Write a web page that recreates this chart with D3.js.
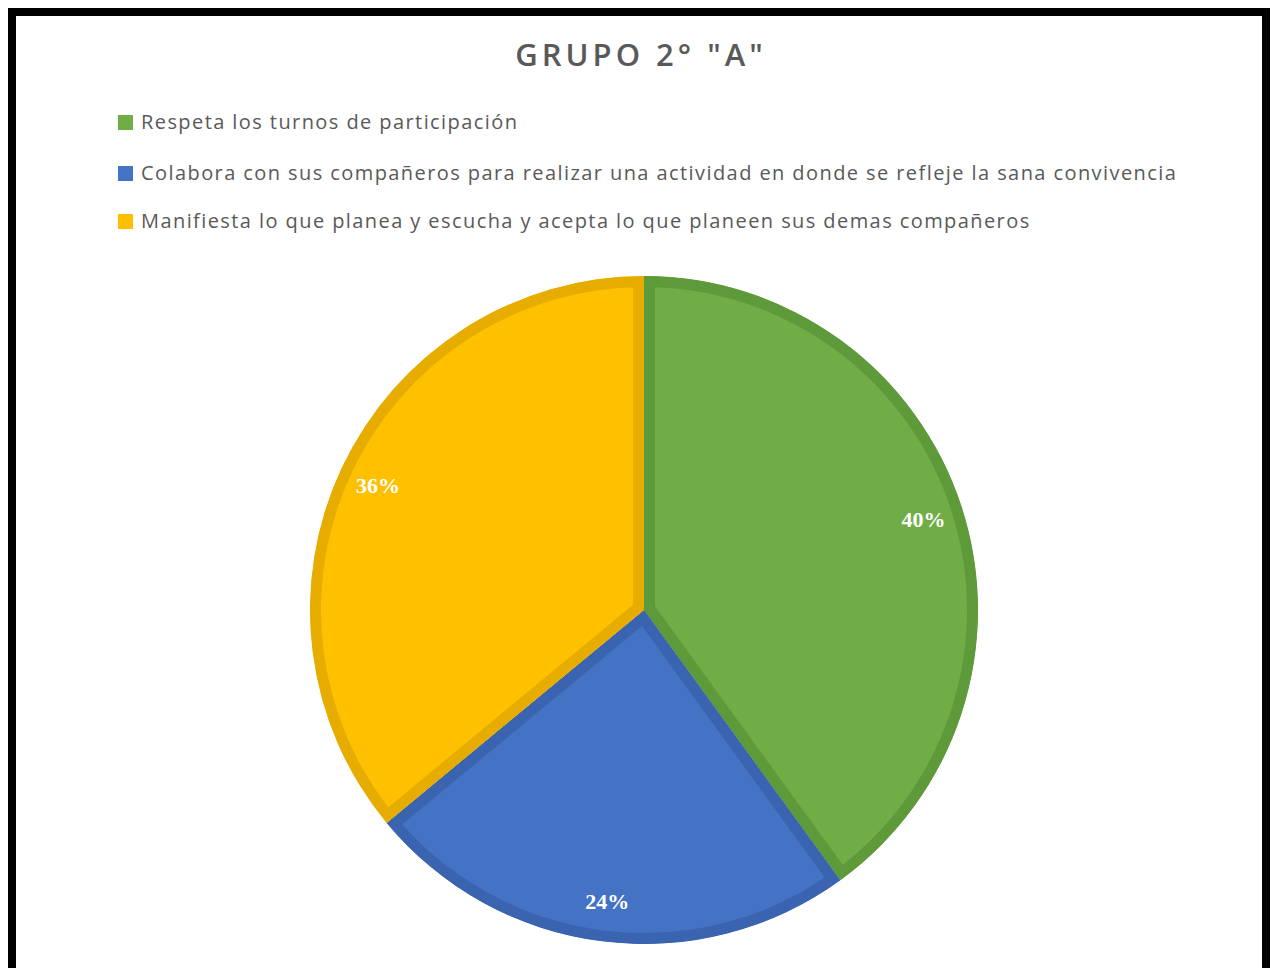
<!DOCTYPE html>
<html>
<head>
<meta charset="utf-8">
<script src="https://cdn.jsdelivr.net/npm/d3@7"></script>
<style>
  body { margin: 0; background: #fff; }
  text { font-family: "Open Sans", sans-serif; }
</style>
</head>
<body>
<div id="chart"></div>
<script>
var width = 1271;
var height = 968;

// data
var categories = [
  "Respeta los turnos de participación",
  "Colabora con sus compañeros para realizar una actividad en donde se refleje la sana convivencia",
  "Manifiesta lo que planea y escucha y acepta lo que planeen sus demas compañeros"
];
var values = [40, 24, 36];
var fills = ["#70AD47", "#4472C4", "#FFC000"];
var borders = ["#5E9A3A", "#3A64B0", "#E6AC00"];
var title = 'GRUPO 2° "A"';

var svg = d3.select('#chart')
    .append('svg')
    .attr('width', width)
    .attr('height', height);

// frame
svg.append('rect')
    .attr('x', 12).attr('y', 12)
    .attr('width', 1254).attr('height', 960)
    .attr('fill', '#fff')
    .attr('stroke', '#000')
    .attr('stroke-width', 8);

svg.append('text')
    .attr('x', 641).attr('y', 66)
    .attr('text-anchor', 'middle')
    .attr('fill', '#595959')
    .attr('font-size', 31)
    .attr('font-weight', 600)
    .attr('letter-spacing', 4)
    .text(title);

// legend
var legend = svg.selectAll('g.legend')
    .data(categories)
    .enter()
    .append('g')
    .attr('class', 'legend')
    .attr('transform', function(d, i){ return 'translate(118,' + [122, 173, 221][i] + ')'; });

legend.append('rect')
    .attr('x', 0).attr('y', -7)
    .attr('width', 15).attr('height', 15)
    .attr('fill', function(d, i){ return fills[i]; });

legend.append('text')
    .attr('x', 23).attr('y', 7)
    .attr('fill', '#595959')
    .attr('font-size', 20)
    .attr('letter-spacing', 1.42)
    .text(function(d){ return d; });

// pie
var cx = 644, cy = 610, r = 334;
var pie = d3.pie().sort(null).value(function(d){ return d; });
var arc = d3.arc().innerRadius(0).outerRadius(r);
var labelArc = d3.arc().innerRadius(r * 0.88).outerRadius(r * 0.88);
var arcs = pie(values);

var g = svg.append('g').attr('transform', 'translate(' + cx + ',' + cy + ')');

var defs = svg.append('defs');
defs.selectAll('clipPath')
    .data(arcs)
    .enter()
    .append('clipPath')
    .attr('id', function(d, i){ return 'clip' + i; })
    .append('path')
    .attr('d', arc);

g.selectAll('path.slice')
    .data(arcs)
    .enter()
    .append('path')
    .attr('class', 'slice')
    .attr('d', arc)
    .attr('fill', function(d, i){ return fills[i]; })
    .attr('stroke', function(d, i){ return borders[i]; })
    .attr('stroke-width', 22)
    .attr('clip-path', function(d, i){ return 'url(#clip' + i + ')'; });

g.selectAll('text.label')
    .data(arcs)
    .enter()
    .append('text')
    .attr('class', 'label')
    .attr('transform', function(d){ return 'translate(' + labelArc.centroid(d) + ')'; })
    .attr('text-anchor', 'middle')
    .attr('dy', '0.35em')
    .attr('fill', '#fff')
    .attr('font-weight', 'bold')
    .attr('font-size', 22)
    .style('font-family', '"Liberation Serif", serif')
    .text(function(d){ return d.data + '%'; });
</script>
</body>
</html>
